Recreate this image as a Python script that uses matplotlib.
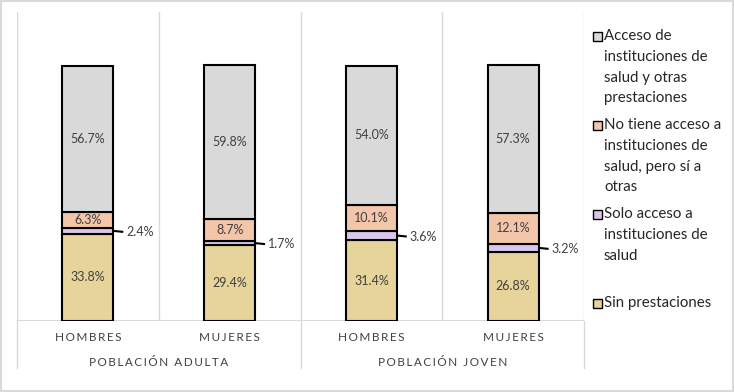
import matplotlib.pyplot as plt
import matplotlib.patches as patches
import numpy as np

plt.rcParams['font.family'] = ['Lato', 'DejaVu Sans']

# data
groups = ['POBLACIÓN ADULTA', 'POBLACIÓN JOVEN']
sexes = ['HOMBRES', 'MUJERES', 'HOMBRES', 'MUJERES']
series = ['Sin prestaciones',
          'Solo acceso a\ninstituciones de\nsalud',
          'No tiene acceso a\ninstituciones de\nsalud, pero sí a\notras',
          'Acceso de\ninstituciones de\nsalud y otras\nprestaciones']
sin_prest = [33.8, 29.4, 31.4, 26.8]
solo_salud = [2.4, 1.7, 3.6, 3.2]
otras = [6.3, 8.7, 10.1, 12.1]
ambas = [56.7, 59.8, 54.0, 57.3]
colors = ['#E6D49A', '#D9C6EA', '#F4C6A9', '#D9D9D9']

values = [sin_prest, solo_salud, otras, ambas]

fig = plt.figure(figsize=(7.34, 3.92), dpi=100)
ax = fig.add_axes([17 / 734, 71 / 392, 567 / 734, 309 / 392])

x = np.arange(len(sexes))
w = 0.36
bottom = np.zeros(len(sexes))
for i, vals in enumerate(values):
    vals = np.array(vals)
    ax.bar(x, vals, w, bottom=bottom, color=colors[i], edgecolor='black',
           linewidth=1.5, zorder=3)
    for j, v in enumerate(vals):
        mid = bottom[j] + v / 2
        if v < 5:
            # small slice: label outside with a short leader line
            xe = x[j] + w / 2
            ax.plot([xe, xe + 0.07], [mid, mid - 0.4], color='black', lw=1.5,
                    zorder=4, solid_capstyle='butt')
            ax.text(xe + 0.09, mid - 0.4, f'{v:.1f}%', ha='left', va='center',
                    fontsize=9, color='#404040')
        else:
            ax.text(x[j], mid, f'{v:.1f}%', ha='center', va='center',
                    fontsize=9, color='#404040', zorder=5)
    bottom += vals

ax.set_xlim(-0.5, 3.5)
ax.set_ylim(0, 120)
for s in ax.spines.values():
    s.set_visible(False)
ax.set_xticks([])
ax.set_yticks([])

grid = '#D9D9D9'
for xv in [-0.5, 0.5, 1.5, 2.5, 3.5]:
    ax.axvline(xv, color=grid, lw=1, zorder=1)
ax.axhline(0, color=grid, lw=1.5, zorder=2)
trans = ax.get_xaxis_transform()
for xv in [-0.5, 1.5, 3.5]:
    ax.plot([xv, xv], [0, -0.152], color=grid, lw=1, transform=trans,
            clip_on=False)

def spaced(s):
    return '\u2009'.join(s)

for j, s in enumerate(sexes):
    ax.text(x[j], -0.055, spaced(s), transform=trans, ha='center', va='center',
            fontsize=8.5, color='#404040')
for g, name in enumerate(groups):
    ax.text(2 * g + 0.5, -0.133, spaced(name), transform=trans, ha='center',
            va='center', fontsize=8.5, color='#404040')

# legend, one slot per series, evenly spaced
leg_top = [36, 125, 214, 303]
order = [3, 2, 1, 0]
for k, i in enumerate(order):
    yc = 1 - leg_top[k] / 392
    fig.patches.append(patches.Rectangle((593 / 734, yc - 4.5 / 392), 9 / 734, 9 / 392,
                                         transform=fig.transFigure,
                                         facecolor=colors[i], edgecolor='black',
                                         lw=1))
    fig.text(604 / 734, yc + 7 / 392, series[i], ha='left', va='top',
             fontsize=10.8, color='#262626', linespacing=1.62)

# outer border
fig.patches.append(patches.Rectangle((0.002, 0.003), 0.996, 0.994,
                                     transform=fig.transFigure, fill=False,
                                     edgecolor='#D9D9D9', lw=1.5))

fig.savefig('out.png', dpi=100)
